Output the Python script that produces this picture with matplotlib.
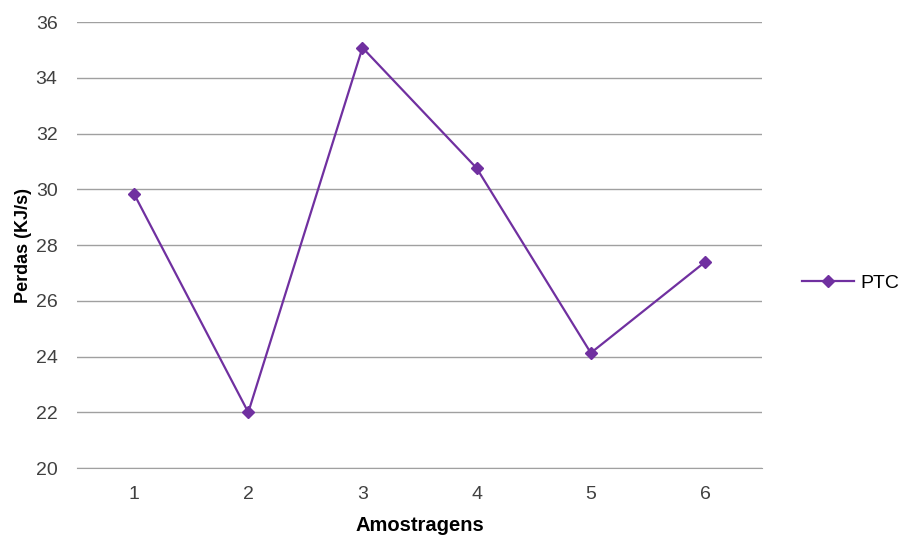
import matplotlib
matplotlib.use('Agg')
from matplotlib import pyplot as plt

plt.rcParams['font.family'] = ['Liberation Sans', 'DejaVu Sans']

amostragens = [1, 2, 3, 4, 5, 6]
perdas_ptc = [29.83, 22.0, 35.08, 30.76, 24.13, 27.39]
y_ticks = [20, 22, 24, 26, 28, 30, 32, 34, 36]

fig = plt.figure(figsize=(9.04, 5.38), dpi=100)
ax = fig.add_axes([0.0852, 0.130, 0.7578, 0.829])

ax.plot(amostragens, perdas_ptc, color='#7030A0', linewidth=1.6,
        marker='D', markersize=6, label='PTC')

ax.set_xlim(0.5, 6.5)
ax.set_ylim(20, 36)
ax.set_yticks(y_ticks)
ax.set_xticks(amostragens)
ax.yaxis.grid(True, color='#A0A0A0', linewidth=1)
ax.set_axisbelow(True)
for s in ax.spines.values():
    s.set_visible(False)
ax.spines['bottom'].set_visible(True)
ax.spines['bottom'].set_color('#A0A0A0')
ax.tick_params(axis='both', length=0, labelsize=14, colors='#404040')
ax.tick_params(axis='y', pad=14)
ax.tick_params(axis='x', pad=13)

ax.set_xlabel('Amostragens', fontsize=14.5, fontweight='bold', labelpad=9)
ax.set_ylabel('Perdas (KJ/s)', fontsize=13, fontweight='bold', labelpad=3)

fig.legend(loc='center left', bbox_to_anchor=(802 / 904, 1 - 283 / 538),
           frameon=False, fontsize=14, handlelength=2.7, handletextpad=0.3,
           borderpad=0, borderaxespad=0)

fig.savefig('out.png', dpi=100)
